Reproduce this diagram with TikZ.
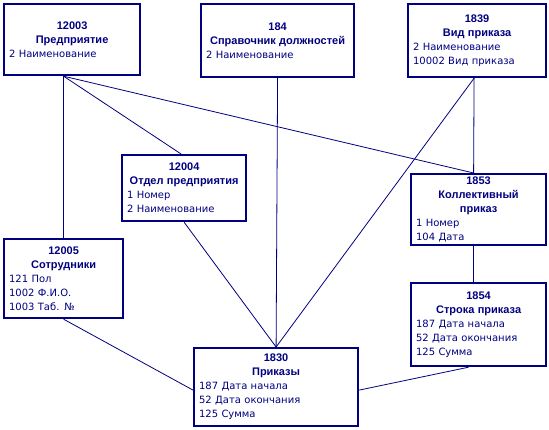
\documentclass[tikz,border=0pt]{standalone}
\usepackage{fontspec}
\setmainfont{DejaVu Sans}
\newfontfamily\hdfont{Liberation Sans}
\definecolor{navy}{RGB}{0,0,128}
\newcommand\ttl[1]{\makebox[\hsize]{\hdfont\fontsize{11}{14}\selectfont\bfseries #1}}
\newcommand\fld[1]{\makebox[\hsize][l]{#1}}
\tikzset{
 ent/.style 2 args={draw=navy,line width=2.2pt,fill=white,anchor=north west,
  inner xsep=5pt,inner ysep=0pt,text width=#1,minimum height=#2,
  align=center,text=navy,font=\fontsize{10}{14}\selectfont},
 rel/.style={draw=navy,line width=0.8pt}
}
\begin{document}
\begin{tikzpicture}[x=1pt,y=-1pt]
 \useasboundingbox[fill=white] (0,0) rectangle (549,430);
 \node[ent={126pt}{71pt}] (e12003) at (3,3) {\ttl{12003}\\\ttl{Предприятие}\\\fld{2 Наименование}};
 \node[ent={143pt}{73pt}] (e184) at (200,3) {\ttl{184}\\\ttl{Справочник должностей}\\\fld{2 Наименование}};
 \node[ent={128pt}{73pt}] (e1839) at (407,3) {\ttl{1839}\\\ttl{Вид приказа}\\\fld{2 Наименование}\\\fld{10002 Вид приказа}};
 \node[ent={114pt}{66pt}] (e12004) at (121,154) {\ttl{12004}\\\ttl{Отдел предприятия}\\\fld{1 Номер}\\\fld{2 Наименование}};
 \node[ent={125pt}{71pt}] (e1853) at (410,173) {\ttl{1853}\\\ttl{Коллективный}\\\ttl{приказ}\\\fld{1 Номер}\\\fld{104 Дата}};
 \node[ent={109pt}{79pt}] (e12005) at (3,238) {\ttl{12005}\\\ttl{Сотрудники}\\\fld{121 Пол}\\\fld{1002 Ф.И.О.}\\\fld{1003 Таб. №}};
 \node[ent={125pt}{83pt}] (e1854) at (410,282) {\ttl{1854}\\\ttl{Строка приказа}\\\fld{187 Дата начала}\\\fld{52 Дата окончания}\\\fld{125 Сумма}};
 \node[ent={154pt}{78pt}] (e1830) at (193,347) {\ttl{1830}\\\ttl{Приказы}\\\fld{187 Дата начала}\\\fld{52 Дата окончания}\\\fld{125 Сумма}};
 % relations
 \draw[rel] (e12003.south -| e12005.north) -- (e12005.north);
 \draw[rel] (e12003.south -| e12005.north) -- ([xshift=-3pt]e12004.north);
 \draw[rel] (e12003.south -| e12005.north) -- ([xshift=-5pt]e1853.north);
 \draw[rel] (e12004.south) -- (e1830.north);
 \draw[rel] (e184.south) -- (e1830.north);
 \draw[rel] ([xshift=-3pt]e1839.south) -- (e1830.north);
 \draw[rel] ([xshift=-3pt]e1839.south) -- ([xshift=-5pt]e1853.north);
 \draw[rel] ([xshift=-5pt]e1853.south) -- ([xshift=-5pt]e1854.north);
 \draw[rel] ([xshift=-10pt]e1854.south) -- ([yshift=-3pt]e1830.east);
 \draw[rel] (e12005.south) -- ([yshift=-3pt]e1830.west);
\end{tikzpicture}
\end{document}
